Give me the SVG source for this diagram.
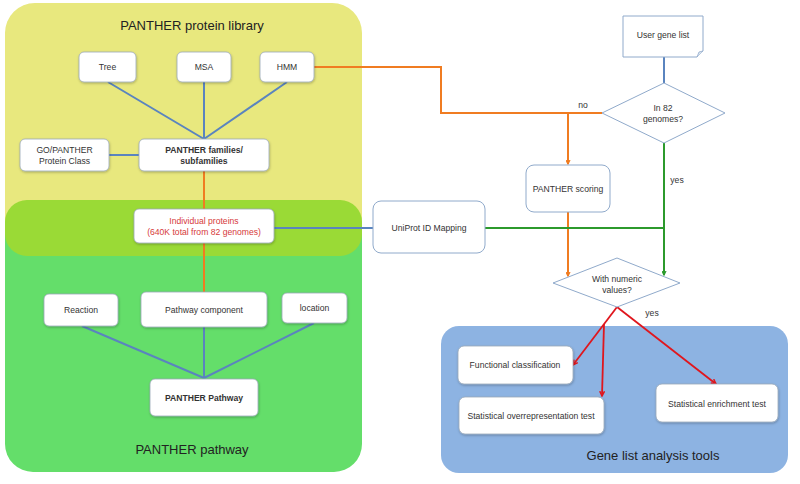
<svg xmlns="http://www.w3.org/2000/svg" width="800" height="484" viewBox="0 0 800 484">
<defs>
<style>
text{font-family:"Liberation Sans",Arial,sans-serif;fill:#333;text-anchor:middle}
.n{font-size:8.6px}
.b{font-weight:bold}
.t{font-size:13px;fill:#222}
.box{fill:#fff;stroke:#9aa8b8;stroke-width:0.8;filter:url(#sh)}
.fbox{fill:#fff;stroke:#90aacb;stroke-width:1}
.bl{stroke:#5a84bf;stroke-width:2;fill:none}
.or{stroke:#f07c21;stroke-width:2;fill:none}
.gr{stroke:#2c9a2c;stroke-width:2;fill:none}
.rd{stroke:#e0161d;stroke-width:1.8;fill:none}
</style>
<filter id="sh" x="-20%" y="-20%" width="140%" height="150%">
<feDropShadow dx="0.5" dy="1.2" stdDeviation="1" flood-color="#000" flood-opacity="0.25"/>
</filter>
<marker id="ao" viewBox="0 0 10 10" refX="9" refY="5" markerWidth="5" markerHeight="5" orient="auto" markerUnits="userSpaceOnUse"><path d="M1,1 L9,5 L1,9" fill="none" stroke="#f07c21" stroke-width="2.5"/></marker>
<marker id="ag" viewBox="0 0 10 10" refX="9" refY="5" markerWidth="5" markerHeight="5" orient="auto" markerUnits="userSpaceOnUse"><path d="M1,1 L9,5 L1,9" fill="none" stroke="#2c9a2c" stroke-width="2.5"/></marker>
<marker id="ar" viewBox="0 0 10 10" refX="9" refY="5" markerWidth="6" markerHeight="6" orient="auto" markerUnits="userSpaceOnUse"><path d="M1,1 L9,5 L1,9" fill="none" stroke="#e0161d" stroke-width="2.5"/></marker>
</defs>
<rect width="800" height="484" fill="#fff"/>

<g id="panel-library">
<rect x="5" y="3" width="357" height="260" rx="30" fill="#e8e87e"/>
<text class="t" x="192" y="30">PANTHER protein library</text>
</g>
<g id="panel-pathway">
<rect x="5" y="200" width="357" height="272" rx="28" fill="#64de6a"/>
<rect x="5" y="200" width="357" height="56" rx="22" fill="#9ada36"/>
<text class="t" x="192" y="454">PANTHER pathway</text>
</g>
<g id="panel-tools">
<rect x="441" y="326" width="347" height="147" rx="18" fill="#8db3e2"/>
<text class="t" x="653" y="460">Gene list analysis tools</text>
</g>

<g id="connectors">
<path class="bl" d="M108,82 L204,139 M204,82 L204,139 M287,82 L204,139 M109,155 L139,155"/>
<path class="or" d="M204,171 L204,209 M204,243 L204,292"/>
<path class="bl" d="M82,326 L204,378 M204,327 L204,378 M314,323 L204,378"/>
<path class="bl" d="M274,228 L373,228"/>
<path class="bl" d="M664,57 L664,83"/>
<path class="or" d="M314,67 L441,67 L441,113 L602,113"/>
<path class="or" d="M568,113 L568,164" marker-end="url(#ao)"/>
<path class="or" d="M568,212 L568,276" marker-end="url(#ao)"/>
<path class="gr" d="M485,228 L664,228"/>
<path class="gr" d="M664,143 L664,275" marker-end="url(#ag)"/>
<path class="rd" d="M617,307 L573,365" marker-end="url(#ar)"/>
<path class="rd" d="M604,324 L602,396" marker-end="url(#ar)"/>
<path class="rd" d="M617,307 L716,384" marker-end="url(#ar)"/>
<text class="n" x="583" y="108">no</text>
<text class="n" x="677" y="183">yes</text>
<text class="n" x="652" y="316">yes</text>
</g>

<g id="tree"><rect class="box" x="79" y="52" width="57" height="30" rx="5"/><text class="n" x="107.5" y="70">Tree</text></g>
<g id="msa"><rect class="box" x="177" y="52" width="54" height="30" rx="5"/><text class="n" x="204" y="70">MSA</text></g>
<g id="hmm"><rect class="box" x="260" y="52" width="54" height="30" rx="5"/><text class="n" x="287" y="70">HMM</text></g>
<g id="go-class"><rect class="box" x="20" y="139" width="89" height="32" rx="5"/><text class="n" x="64.5" y="153">GO/PANTHER</text><text class="n" x="64.5" y="164">Protein Class</text></g>
<g id="families"><rect class="box" x="139" y="139" width="130" height="32" rx="5"/><text class="n b" x="204" y="153">PANTHER families/</text><text class="n b" x="204" y="164">subfamilies</text></g>
<g id="individual"><rect class="box" x="134" y="209" width="140" height="34" rx="5"/><text class="n" x="204" y="224" style="fill:#d63a3a">Individual proteins</text><text class="n" x="204" y="235" style="fill:#d63a3a">(640K total from 82 genomes)</text></g>
<g id="reaction"><rect class="box" x="44" y="294" width="74" height="32" rx="5"/><text class="n" x="81" y="313">Reaction</text></g>
<g id="pathway-component"><rect class="box" x="141" y="292" width="126" height="35" rx="5"/><text class="n" x="204" y="313">Pathway component</text></g>
<g id="location"><rect class="box" x="282" y="293" width="65" height="30" rx="5"/><text class="n" x="314.5" y="311">location</text></g>
<g id="panther-pathway"><rect class="box" x="150" y="379" width="108" height="37" rx="5"/><text class="n b" x="204" y="401">PANTHER Pathway</text></g>

<g id="uniprot"><rect class="fbox" x="373" y="201" width="112" height="52" rx="8"/><text class="n" x="429" y="231">UniProt ID Mapping</text></g>
<g id="user-gene-list"><path class="fbox" d="M623,16 L703,16 L703,51 L697,57 L623,57 Z"/><path d="M697,57 L699,52 L703,51" fill="#dde6f0" stroke="#90aacb" stroke-width="0.8"/><text class="n" x="663" y="38">User gene list</text></g>
<g id="in-82"><path class="fbox" d="M602,113 L664,83 L725,113 L664,143 Z"/><text class="n" x="663" y="111">In 82</text><text class="n" x="663" y="122">genomes?</text></g>
<g id="scoring"><rect class="fbox" x="526" y="165" width="84" height="47" rx="8"/><text class="n" x="568" y="192">PANTHER scoring</text></g>
<g id="numeric"><path class="fbox" d="M553,283 L617,258 L680,283 L617,307 Z"/><text class="n" x="617" y="282">With numeric</text><text class="n" x="617" y="293">values?</text></g>

<g id="functional"><rect class="box" x="458" y="346" width="115" height="38" rx="6"/><text class="n" x="515" y="368">Functional classification</text></g>
<g id="overrep"><rect class="box" x="459" y="397" width="145" height="37" rx="6"/><text class="n" x="531" y="419">Statistical overrepresentation test</text></g>
<g id="enrichment"><rect class="box" x="656" y="384" width="122" height="38" rx="6"/><text class="n" x="717" y="407">Statistical enrichment test</text></g>
</svg>
